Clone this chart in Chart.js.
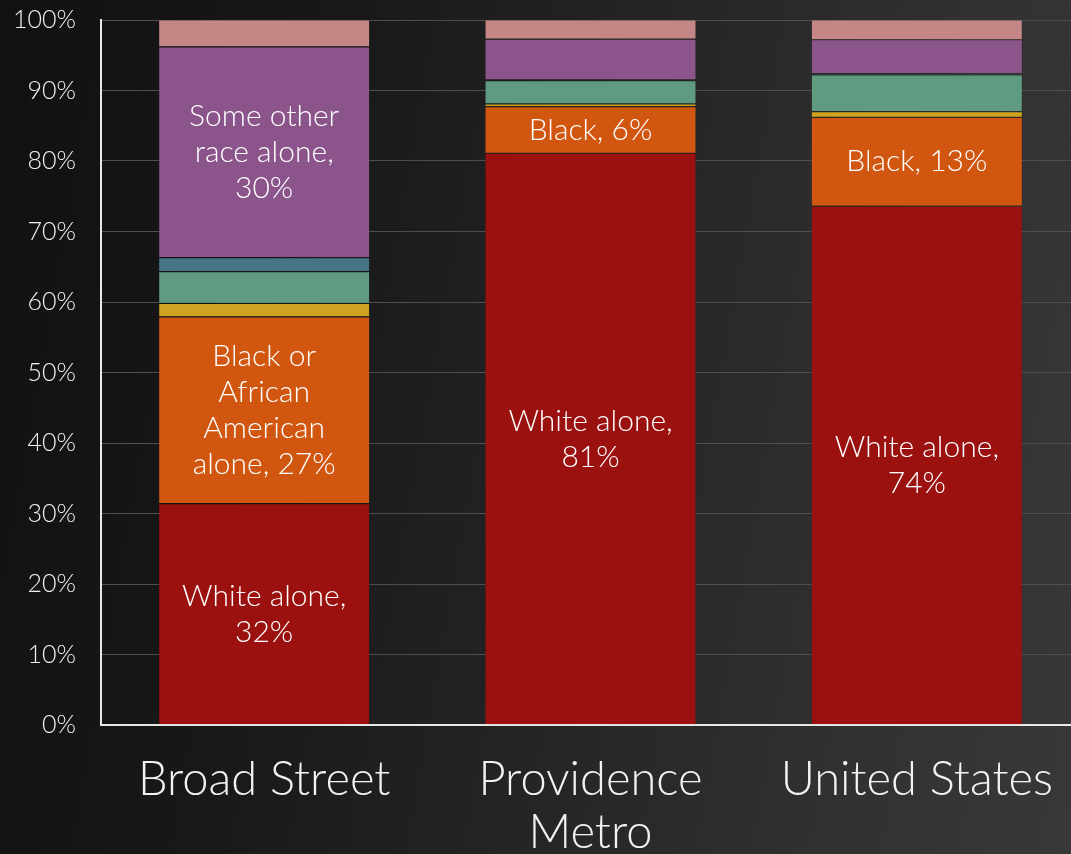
<!DOCTYPE html>
<html>
<head>
<meta charset="utf-8">
<script src="https://cdn.jsdelivr.net/npm/chart.js@4.4.0/dist/chart.umd.min.js"></script>
<style>
  html, body { margin:0; padding:0; width:1071px; height:854px; overflow:hidden;
    background: linear-gradient(100deg, #111111 0%, #171717 25%, #252525 55%, #313131 80%, #383838 100%); }
  #wrap { position:absolute; left:0; top:0; width:1080px; height:854px; }
</style>
</head>
<body>
<div id="wrap"><canvas id="c"></canvas></div>
<script>
const categories = ["Broad Street", ["Providence", "Metro"], "United States"];
const whiteAlone = [31.4, 81.1, 73.6];
const blackAlone = [26.5, 6.6, 12.6];
const amIndianAlone = [1.9, 0.4, 0.8];
const asianAlone = [4.5, 3.3, 5.2];
const hawaiianAlone = [2.0, 0.1, 0.2];
const otherRaceAlone = [29.9, 5.8, 4.8];
const twoOrMore = [3.8, 2.7, 2.8];
const yTicks = [0, 10, 20, 30, 40, 50, 60, 70, 80, 90, 100];

const whiteLabels = [["White alone,", "32%"], ["White alone,", "81%"], ["White alone,", "74%"]];
const blackLabels = [["Black or", "African", "American", "alone, 27%"], ["Black, 6%"], ["Black, 13%"]];
const otherLabels = [["Some other", "race alone,", "30%"], null, null];

const FONT = "Lato, 'Open Sans', sans-serif";

const segLabelPlugin = {
  id: 'segLabels',
  afterDatasetsDraw(chart) {
    const ctx = chart.ctx;
    ctx.save();
    ctx.fillStyle = '#ffffff';
    ctx.font = "300 30px " + FONT;
    ctx.textAlign = 'center';
    ctx.textBaseline = 'middle';
    const lh = 36;
    chart.data.datasets.forEach((ds, di) => {
      if (!ds.segLabels) return;
      const meta = chart.getDatasetMeta(di);
      meta.data.forEach((el, i) => {
        const lines = ds.segLabels[i];
        if (!lines) return;
        const cy = (el.y + el.base) / 2;
        const startY = cy - (lines.length - 1) * lh / 2;
        lines.forEach((t, k) => ctx.fillText(t, el.x, startY + k * lh));
      });
    });
    ctx.restore();
  }
};

const border = 'rgba(0,0,0,0.15)';
new Chart(document.getElementById('c'), {
  type: 'bar',
  data: {
    labels: categories,
    datasets: [
      { label: 'White alone', data: whiteAlone, backgroundColor: '#9b1110', segLabels: whiteLabels },
      { label: 'Black or African American alone', data: blackAlone, backgroundColor: '#d15710', segLabels: blackLabels },
      { label: 'American Indian and Alaska Native alone', data: amIndianAlone, backgroundColor: '#cea322' },
      { label: 'Asian alone', data: asianAlone, backgroundColor: '#5f9b81' },
      { label: 'Native Hawaiian and Other Pacific Islander alone', data: hawaiianAlone, backgroundColor: '#477587' },
      { label: 'Some other race alone', data: otherRaceAlone, backgroundColor: '#8b548a', segLabels: otherLabels },
      { label: 'Two or more races', data: twoOrMore, backgroundColor: '#c58785' }
    ].map(d => Object.assign(d, { borderColor: border, borderWidth: 0.6, borderSkipped: false }))
  },
  options: {
    responsive: true,
    maintainAspectRatio: false,
    animation: false,
    layout: { padding: { left: 0, right: 0, top: 20, bottom: 0 } },
    plugins: { legend: { display: false }, tooltip: { enabled: false } },
    datasets: { bar: { categoryPercentage: 1.0, barPercentage: 0.647 } },
    scales: {
      x: {
        stacked: true,
        grid: { display: false, drawTicks: false },
        border: { display: true, color: '#e8e8e8', width: 2 },
        ticks: { color: '#f2f2f2', font: { family: FONT, size: 47, weight: '300', lineHeight: 1.12 }, padding: 29, maxRotation: 0 },
        afterFit(s) { s.height = 129; s.paddingLeft = 0; s.paddingRight = 0; }
      },
      y: {
        stacked: true,
        min: 0, max: 100,
        afterBuildTicks(s) { s.ticks = yTicks.map(v => ({ value: v })); },
        grid: { color: '#4e4e4e', lineWidth: 1, drawTicks: false },
        border: { display: true, color: '#e8e8e8', width: 2 },
        ticks: { color: '#f2f2f2', font: { family: FONT, size: 25, weight: '300' }, padding: 25, callback: v => v + '%' },
        afterFit(s) { s.width = 101; s.paddingTop = 0; s.paddingBottom = 0; }
      }
    }
  },
  plugins: [segLabelPlugin]
});
</script>
</body>
</html>
